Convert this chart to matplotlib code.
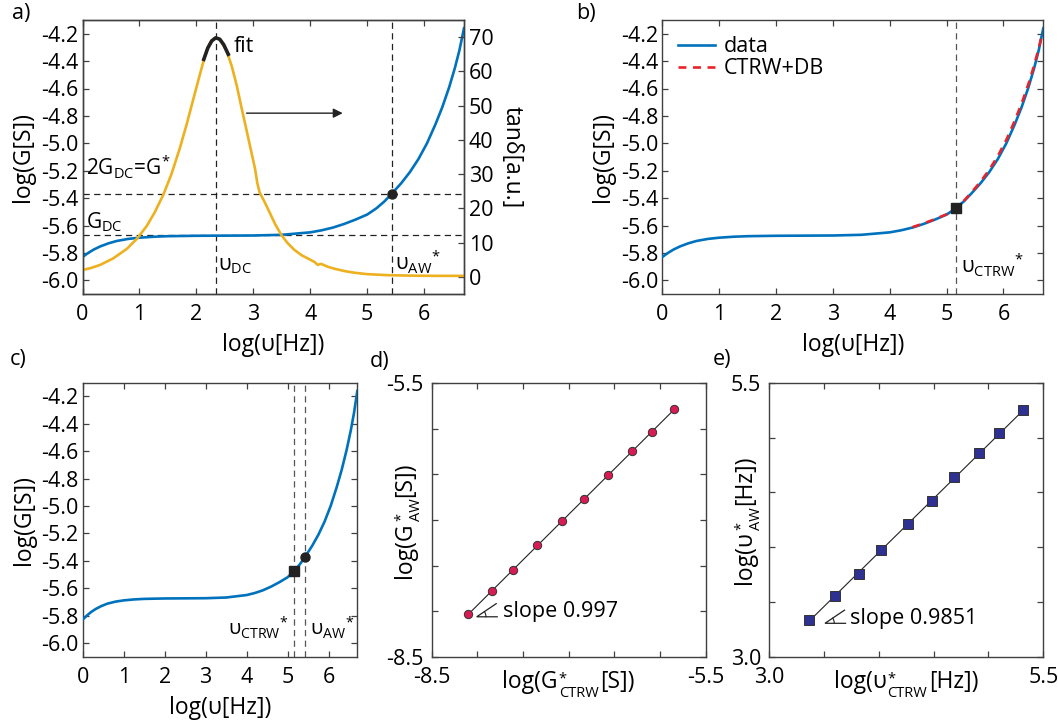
import numpy as np
import matplotlib
matplotlib.use("Agg")
import matplotlib.pyplot as plt
from matplotlib.ticker import FixedLocator, FixedFormatter, FormatStrFormatter
from matplotlib.transforms import IdentityTransform

plt.rcParams['font.family'] = ['Open Sans', 'DejaVu Sans']
plt.rcParams['mathtext.fontset'] = 'custom'
plt.rcParams['mathtext.rm'] = 'Open Sans'
plt.rcParams['mathtext.it'] = 'Open Sans:italic'
plt.rcParams['mathtext.bf'] = 'Open Sans:bold'
plt.rcParams['mathtext.sf'] = 'Open Sans'
plt.rcParams['axes.unicode_minus'] = False

# ---- conductance spectrum log G vs log nu ----
logf = [0.00, 0.10, 0.20, 0.31, 0.45, 0.60, 0.80, 1.00, 1.25, 1.50, 2.00, 2.50,
        3.00, 3.50, 4.00, 4.20, 4.40, 4.60, 4.80, 5.00, 5.16, 5.30, 5.43, 5.60,
        5.75, 5.90, 6.05, 6.20, 6.32, 6.44, 6.54, 6.62, 6.70]
logG = [-5.830, -5.800, -5.775, -5.753, -5.731, -5.713, -5.698, -5.689, -5.682,
        -5.678, -5.675, -5.674, -5.673, -5.668, -5.650, -5.635, -5.615, -5.588,
        -5.556, -5.520, -5.475, -5.425, -5.369, -5.290, -5.210, -5.115, -5.000,
        -4.860, -4.735, -4.590, -4.450, -4.320, -4.160]

# CTRW + dielectric background model
model_logf = [4.40, 4.60, 4.80, 5.00, 5.16, 5.30, 5.43, 5.60, 5.75, 5.90, 6.05,
              6.20, 6.32, 6.44, 6.54, 6.62, 6.68]
model_logG = [-5.612, -5.584, -5.553, -5.518, -5.474, -5.422, -5.362, -5.278,
              -5.193, -5.093, -4.975, -4.833, -4.708, -4.565, -4.430, -4.305, -4.200]

# ---- loss tangent ----
tan_logf = [0.00, 0.15, 0.31, 0.54, 0.78, 0.96, 1.13, 1.27, 1.42, 1.56, 1.71,
            1.83, 1.94, 2.06, 2.15, 2.20, 2.25, 2.30, 2.34, 2.38, 2.43, 2.53,
            2.62, 2.71, 2.79, 2.88, 2.95, 3.03, 3.07, 3.11, 3.20, 3.29, 3.38,
            3.49, 3.60, 3.72, 3.85, 3.99, 4.08, 4.13, 4.19, 4.30, 4.42, 4.60,
            4.78, 5.00, 5.36, 5.80, 6.20, 6.70]
tan_delta = [2.0, 2.6, 3.5, 5.4, 8.2, 11.2, 14.9, 18.9, 24.0, 29.9, 37.6,
             44.6, 51.5, 59.0, 64.5, 67.0, 68.6, 69.5, 69.8, 69.6, 68.9, 66.0,
             61.6, 55.8, 49.6, 42.9, 37.6, 31.6, 27.4, 24.7, 21.8, 18.7, 15.5,
             12.3, 9.9, 7.9, 6.3, 5.1, 4.3, 3.5, 3.8, 3.0, 2.4, 1.7,
             1.2, 0.8, 0.5, 0.35, 0.3, 0.3]
fit_logf = [2.13, 2.20, 2.27, 2.34, 2.41, 2.48, 2.56]
fit_tan = [63.5, 66.8, 68.9, 69.8, 69.4, 67.8, 65.0]

# characteristic points
log_nu_dc = 2.34
log_G_dc = -5.67
log_2G_dc = -5.369
log_nu_aw = 5.43
log_nu_ctrw = 5.16
log_G_ctrw = -5.475

# ---- scaling plots ----
G_ctrw = [-8.098, -7.836, -7.610, -7.343, -7.077, -6.829, -6.573, -6.303, -6.088, -5.843]
G_aw = [-8.035, -7.776, -7.549, -7.278, -7.015, -6.766, -6.510, -6.246, -6.030, -5.785]
slope_G = 0.997
nu_ctrw = [3.359, 3.599, 3.815, 4.019, 4.268, 4.484, 4.688, 4.916, 5.099, 5.318]
nu_aw = [3.335, 3.550, 3.754, 3.973, 4.210, 4.420, 4.639, 4.855, 5.041, 5.248]
slope_nu = 0.9851

BLUE = '#0072BD'
ORANGE = '#EDB120'
RED = '#E8232A'
CRIMSON = '#D81B55'
NAVY = '#2E3192'
SPINE = '#404040'
INK = '#222222'
FS = 15.5
LFS = 16.5
AFS = 15.0

W, H = 1058, 721
fig = plt.figure(figsize=(W / 100, H / 100), dpi=100)
renderer = fig.canvas.get_renderer()


def rect(l, t, r, b):
    return [l / W, 1 - b / H, (r - l) / W, (b - t) / H]


def style(ax, right=True, ypad=3.0):
    ax.tick_params(direction='in', length=4.5, width=0.9, color=SPINE,
                   top=True, right=right, labelsize=FS)
    ax.tick_params(axis='x', pad=7.5)
    ax.tick_params(axis='y', pad=ypad)
    for s in ax.spines.values():
        s.set_color(SPINE)
        s.set_linewidth(1.0)


def spectrum_axes(ax):
    ax.set_xlim(0, 6.7)
    ax.set_ylim(-6.1, -4.1)
    ax.set_xticks(range(0, 7))
    ax.set_yticks(np.round(np.arange(-6.0, -4.19, 0.2), 1))
    ax.yaxis.set_major_formatter(FormatStrFormatter('%.1f'))
    ax.set_xlabel('log(υ[Hz])', fontsize=LFS, labelpad=5.5)
    ax.set_ylabel('log(G[S])', fontsize=LFS, labelpad=4)


def text_width(s, fs):
    t = fig.text(0, 0, s, fontsize=fs)
    w = t.get_window_extent(renderer).width
    t.remove()
    return w


def script_label(main1, sup, sub, main2, center, baseline, vertical, fs=LFS):
    """Axis label with a stacked super/subscript, laid out in pixels."""
    sfs = fs * 0.64
    em = fs * 100 / 72
    w1 = text_width(main1, fs)
    wsup = text_width(sup, sfs)
    wsub = text_width(sub, sfs)
    w2 = text_width(main2, fs)
    p_script = w1 + 1.0
    p2 = p_script + max(wsup, wsub) + 2.0
    total = p2 + w2
    s0 = center - total / 2
    pieces = [(main1, fs, 0.0, 0.0), (sup, sfs, p_script, 0.27 * em),
              (sub, sfs, p_script, -0.40 * em), (main2, fs, p2, 0.0)]
    for s, f, along, up in pieces:
        if vertical:
            x, y, rot = baseline - up, s0 + along, 90
        else:
            x, y, rot = s0 + along, baseline + up, 0
        fig.text(x, y, s, fontsize=f, rotation=rot, rotation_mode='anchor',
                 ha='left', va='baseline', transform=IdentityTransform())


dash = dict(linestyle=(0, (5, 3.5)), linewidth=0.9)

# ---------------- a) ----------------
ax_a = fig.add_axes(rect(82.5, 20, 464, 294))
style(ax_a, right=False)
spectrum_axes(ax_a)
ax_a.axhline(log_G_dc, color=INK, **dash)
ax_a.axhline(log_2G_dc, color=INK, **dash)
ax_a.axvline(log_nu_dc, color=INK, **dash)
ax_a.axvline(log_nu_aw, color=INK, **dash)
ax_a.plot(logf, logG, color=BLUE, lw=1.9, zorder=3)
ax_a.plot([log_nu_aw], [log_2G_dc], 'o', color=INK, ms=6.5, zorder=5)
ax_a.text(0.07, -5.232, '2G$_{\\mathrm{DC}}$=G$^{*}$', fontsize=AFS, va='baseline')
ax_a.text(0.07, -5.62, 'G$_{\\mathrm{DC}}$', fontsize=AFS, va='baseline')
ax_a.text(2.38, -5.925, 'υ$_{\\mathrm{DC}}$', fontsize=AFS, va='baseline')
ax_a.text(5.49, -5.93, 'υ$_{\\mathrm{AW}}{}^{*}$', fontsize=AFS, va='baseline')
ax_a.text(2.65, -4.29, 'fit', fontsize=FS, va='center')

ax_t = ax_a.twinx()
ax_t.set_ylim(-5, 75)
ax_t.set_yticks(range(0, 71, 10))
ax_t.tick_params(direction='in', length=4.5, width=0.9, color=SPINE,
                 labelsize=FS, pad=3.5)
for s in ax_t.spines.values():
    s.set_color(SPINE)
    s.set_linewidth(1.0)
ax_t.plot(tan_logf, tan_delta, color=ORANGE, lw=1.9, zorder=2)
ax_t.plot(fit_logf, fit_tan, color=INK, lw=2.6, zorder=4)
ax_t.annotate('', xy=(4.57, 47.8), xytext=(2.88, 47.8),
              arrowprops=dict(arrowstyle='-|>', color=INK, lw=1.0,
                              mutation_scale=14, shrinkA=0, shrinkB=0))
ax_t.set_ylabel('tanδ[a.u.]', fontsize=LFS, rotation=270, va='bottom', labelpad=4)

# ---------------- b) ----------------
ax_b = fig.add_axes(rect(662.3, 20, 1043.3, 294))
style(ax_b)
spectrum_axes(ax_b)
ax_b.axvline(log_nu_ctrw, color='#555555', **dash)
ax_b.plot(logf, logG, color=BLUE, lw=1.9, label='data', zorder=3)
ax_b.plot(model_logf, model_logG, color=RED, lw=1.9, linestyle=(0, (3, 2.5)),
          label='CTRW+DB', zorder=4)
ax_b.plot([log_nu_ctrw], [log_G_ctrw], 's', color=INK, ms=7.5, zorder=5)
ax_b.text(5.25, -5.95, 'υ$_{\\mathrm{CTRW}}{}^{*}$', fontsize=AFS, va='baseline')
ax_b.legend(loc='upper left', frameon=False, fontsize=FS, handlelength=1.7,
            handletextpad=0.4, borderaxespad=0.35, labelspacing=0.05)

# ---------------- c) ----------------
ax_c = fig.add_axes(rect(82.7, 382.7, 357.3, 656.7))
style(ax_c)
spectrum_axes(ax_c)
ax_c.axvline(log_nu_ctrw, color='#555555', **dash)
ax_c.axvline(log_nu_aw, color='#555555', **dash)
ax_c.plot(logf, logG, color=BLUE, lw=1.9, zorder=3)
ax_c.plot([log_nu_ctrw], [log_G_ctrw], 's', color=INK, ms=7.5, zorder=5)
ax_c.plot([log_nu_aw], [log_2G_dc], 'o', color=INK, ms=6.5, zorder=5)
ax_c.text(3.55, -5.945, 'υ$_{\\mathrm{CTRW}}{}^{*}$', fontsize=AFS - 0.5, va='baseline')
ax_c.text(5.55, -5.945, 'υ$_{\\mathrm{AW}}{}^{*}$', fontsize=AFS - 0.5, va='baseline')


def scaling_axes(ax, lo, hi, step, fmt):
    ticks = np.round(np.arange(lo, hi + 1e-9, step), 2)
    labels = [fmt % lo] + [''] * (len(ticks) - 2) + [fmt % hi]
    ax.set_xlim(lo, hi)
    ax.set_ylim(lo, hi)
    for axis in (ax.xaxis, ax.yaxis):
        axis.set_major_locator(FixedLocator(ticks))
        axis.set_major_formatter(FixedFormatter(labels))


def fit_line(ax, x, y, slope):
    x = np.asarray(x)
    y = np.asarray(y)
    xs = np.array([x.min(), x.max()])
    ax.plot(xs, y.mean() + slope * (xs - x.mean()), color=INK, lw=0.8, zorder=2)


def angle_sign(ax, x0, y0, w_frac=0.075, h_frac=0.048):
    # small measured-angle glyph drawn in axes fraction units
    t = ax.transAxes
    ax.plot([x0 + w_frac, x0, x0 + w_frac * 0.95], [y0, y0, y0 + h_frac],
            color=INK, lw=0.9, transform=t, clip_on=False, solid_joinstyle='miter')
    th = np.linspace(0, np.arctan2(h_frac, w_frac * 0.95), 12)
    r = w_frac * 0.45
    ax.plot(x0 + r * np.cos(th), y0 + r * np.sin(th), color=INK, lw=0.8,
            transform=t, clip_on=False)


# ---------------- d) ----------------
ax_d = fig.add_axes(rect(431.7, 383.3, 705.7, 656.7))
style(ax_d, ypad=6)
scaling_axes(ax_d, -8.5, -5.5, 0.5, '%.1f')
fit_line(ax_d, G_ctrw, G_aw, slope_G)
ax_d.plot(G_ctrw, G_aw, 'o', ms=6.0, mfc=CRIMSON, mec='#333333', mew=0.7, zorder=3)
angle_sign(ax_d, (476.7 - 431.7) / 274, (656.7 - 616.7) / 274)
ax_d.text(-7.72, -8.0, 'slope %.3f' % slope_G, fontsize=FS, va='center')
script_label('log(G', '*', 'CTRW', '[S])', 568.7, H - 688.3, False)
script_label('log(G', '*', 'AW', '[S])', H - 520.0, 411.0, True)

# ---------------- e) ----------------
ax_e = fig.add_axes(rect(769.3, 382.7, 1043.3, 656.7))
style(ax_e, ypad=6)
scaling_axes(ax_e, 3.0, 5.5, 0.5, '%.1f')
fit_line(ax_e, nu_ctrw, nu_aw, slope_nu)
ax_e.plot(nu_ctrw, nu_aw, 's', ms=6.8, mfc=NAVY, mec='#333333', mew=0.7, zorder=3)
angle_sign(ax_e, (825 - 769.3) / 274, (656.7 - 623.3) / 274)
ax_e.text(3.74, 3.35, 'slope %.4f' % slope_nu, fontsize=FS, va='center')
script_label('log(υ', '*', 'CTRW', '[Hz])', 906.3, H - 688.3, False)
script_label('log(υ', '*', 'AW', '[Hz])', H - 520.0, 751.0, True)

# panel letters
for lbl, x, y in [('a)', 12, 14), ('b)', 576, 13), ('c)', 10, 359),
                  ('d)', 370, 361), ('e)', 713, 359)]:
    fig.text(x / W, 1 - y / H, lbl, fontsize=FS, va='center', ha='left')

fig.savefig('out.png', dpi=100)
